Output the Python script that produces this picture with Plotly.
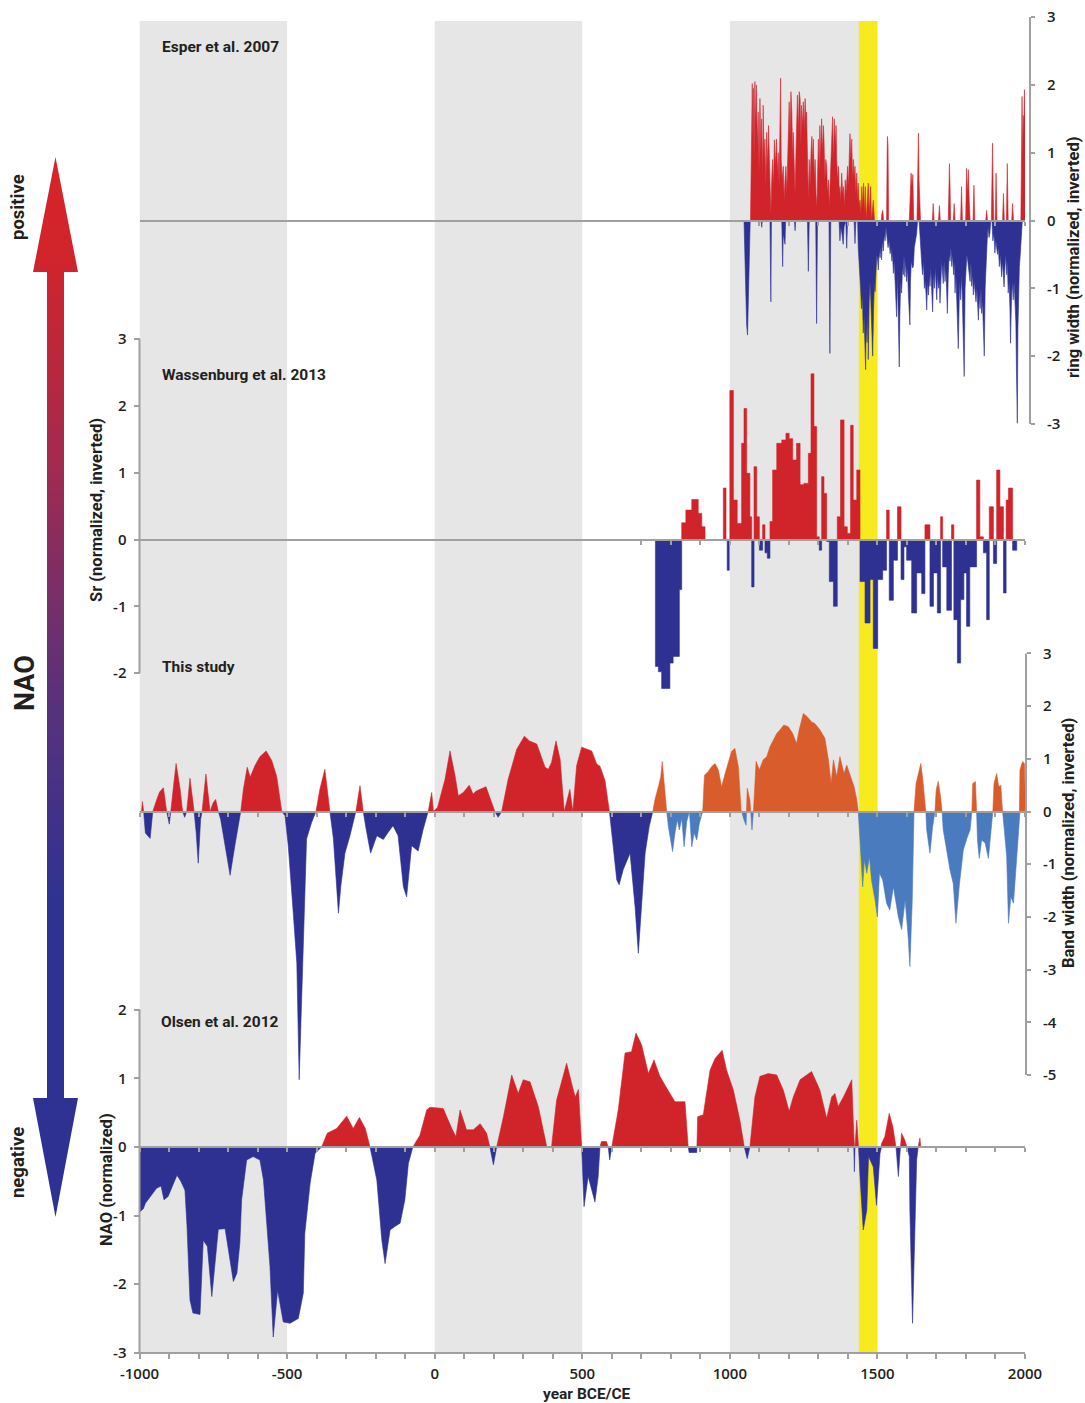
import numpy as np
import plotly.graph_objects as go

# ---------------- data ----------------
# Esper et al. 2007, ring width (normalized, inverted): positive and negative spikes
esper_pos_year = [1070, 1073, 1076, 1078, 1080, 1082, 1085, 1087, 1090, 1093,
                  1096, 1099, 1102, 1105, 1108, 1111, 1113, 1116, 1119, 1122,
                  1125, 1128, 1131, 1134, 1137, 1139, 1142, 1145, 1148, 1151,
                  1154, 1158, 1161, 1164, 1167, 1170, 1172, 1174, 1177, 1181,
                  1184, 1187, 1190, 1193, 1196, 1199, 1201, 1204, 1207, 1210,
                  1213, 1215, 1218, 1221, 1224, 1227, 1229, 1232, 1235, 1238,
                  1241, 1243, 1246, 1249, 1252, 1255, 1258, 1260, 1263, 1266,
                  1269, 1272, 1275, 1278, 1281, 1283, 1286, 1289, 1292, 1295,
                  1298, 1300, 1303, 1305, 1308, 1311, 1314, 1317, 1319, 1322,
                  1325, 1328, 1331, 1334, 1337, 1340, 1343, 1346, 1348, 1351,
                  1354, 1357, 1360, 1362, 1365, 1368, 1371, 1373, 1376, 1379,
                  1382, 1385, 1388, 1391, 1394, 1399, 1402, 1405, 1407, 1410,
                  1413, 1416, 1419, 1421, 1424, 1427, 1430, 1433, 1435, 1438,
                  1441, 1444, 1447, 1450, 1453, 1456, 1459, 1462, 1466, 1469,
                  1472, 1477, 1480, 1484, 1486, 1490, 1513, 1515, 1518, 1521,
                  1531, 1533, 1534, 1536, 1538, 1608, 1611, 1614, 1617, 1620,
                  1623, 1634, 1637, 1639, 1641, 1644, 1646, 1686, 1689, 1692,
                  1707, 1710, 1713, 1740, 1742, 1744, 1746, 1748, 1757, 1760,
                  1763, 1782, 1785, 1788, 1799, 1802, 1805, 1808, 1811, 1814,
                  1824, 1827, 1830, 1867, 1870, 1873, 1886, 1888, 1890, 1892,
                  1894, 1899, 1902, 1905, 1924, 1927, 1930, 1937, 1940, 1943,
                  1955, 1958, 1961, 1986, 1988, 1990, 1992, 1994, 1996, 1998,
                  2000]
esper_pos_val = [0, 0.8, 2.02, 1.2, 1.95, 0.9, 2.05, 1.4, 2.0, 1.1,
                 1.6, 0.7, 1.8, 1.0, 1.5, 0.6, 1.7, 0.9, 1.2, 0.5,
                 1.3, 0.8, 1.4, 0.9, 0.3, 0.1, 0.6, 0.9, 0.5, 1.19,
                 0.8, 1.2, 0.7, 1.0, 0.5, 1.3, 2.1, 0.9, 0.6, 0.8,
                 0.3, 0.6, 0.8, 0.4, 1.0, 1.3, 1.75, 1.2, 1.9, 1.6,
                 0.9, 1.3, 0.8, 0.4, 1.0, 1.4, 1.85, 1.3, 1.9, 1.8,
                 1.1, 1.7, 1.4, 1.75, 1.3, 1.8, 1.5, 1.6, 0.7, 0.3,
                 0.9, 0.5, 1.0, 1.24, 0.8, 1.2, 0.6, 0.9, 0.4, 0.2,
                 0.8, 1.2, 0.7, 1.4, 0.9, 1.5, 1.0, 1.4, 1.2, 0.6,
                 0.9, 0.8, 0.4, 0.6, 0.2, 0.5, 0.9, 1.2, 1.53, 0.9,
                 1.5, 1.1, 1.4, 0.9, 0.6, 0.8, 0.4, 0.5, 0.3, 0.7,
                 0.4, 0.5, 0.2, 0.6, 0.4, 0.8, 0.5, 1.0, 1.28, 0.9,
                 1.2, 0.6, 0.9, 0.6, 0.8, 0.4, 0.7, 0.3, 0.55, 0.2,
                 0.3, 0.1, 0.5, 0.2, 0.55, 0.1, 0.5, 0, 0.3, 0.55,
                 0.1, 0.5, 0, 0.2, 0.3, 0, 0, 0.1, 0.15, 0,
                 0, 1.0, 1.24, 1.1, 0, 0, 0.4, 0.7, 0.5, 0.68,
                 0, 0, 0.8, 1.29, 0.6, 0.3, 0, 0, 0.25, 0,
                 0, 0.22, 0, 0, 0.5, 0.84, 0.5, 0, 0, 0.25,
                 0, 0, 0.5, 0, 0, 0.77, 0.4, 0.75, 0.3, 0,
                 0, 0.52, 0, 0, 0.15, 0, 0, 0.6, 1.14, 0.5,
                 0, 0, 0.7, 0, 0, 0.4, 0, 0, 0.84, 0,
                 0, 0.25, 0, 0, 1.4, 1.83, 0.9, 1.55, 1.3, 1.93,
                 1.7]
esper_neg_year = [1048, 1051, 1054, 1057, 1060, 1063, 1066, 1069, 1106, 1108,
                  1110, 1136, 1139, 1141, 1176, 1179, 1181, 1187, 1189, 1219,
                  1221, 1223, 1263, 1266, 1269, 1291, 1294, 1297, 1336, 1339,
                  1342, 1370, 1373, 1376, 1380, 1384, 1387, 1393, 1396, 1399,
                  1421, 1424, 1427, 1433, 1435, 1438, 1441, 1443, 1446, 1449,
                  1452, 1455, 1458, 1460, 1462, 1465, 1467, 1469, 1472, 1475,
                  1477, 1480, 1482, 1484, 1487, 1490, 1492, 1495, 1498, 1501,
                  1503, 1506, 1509, 1512, 1514, 1517, 1520, 1523, 1526, 1529,
                  1532, 1536, 1540, 1543, 1546, 1549, 1551, 1554, 1557, 1560,
                  1563, 1565, 1568, 1571, 1574, 1576, 1579, 1582, 1585, 1588,
                  1590, 1593, 1596, 1599, 1602, 1605, 1608, 1610, 1612, 1615,
                  1619, 1622, 1625, 1628, 1631, 1633, 1636, 1641, 1644, 1647,
                  1650, 1653, 1656, 1659, 1662, 1665, 1667, 1670, 1673, 1676,
                  1678, 1681, 1684, 1687, 1690, 1693, 1696, 1699, 1701, 1704,
                  1707, 1710, 1712, 1715, 1718, 1721, 1723, 1726, 1729, 1732,
                  1735, 1737, 1740, 1743, 1746, 1749, 1752, 1755, 1758, 1761,
                  1763, 1766, 1769, 1771, 1774, 1777, 1779, 1782, 1785, 1788,
                  1791, 1794, 1797, 1800, 1803, 1806, 1808, 1811, 1814, 1817,
                  1819, 1822, 1825, 1828, 1831, 1834, 1837, 1840, 1842, 1845,
                  1848, 1851, 1853, 1856, 1859, 1862, 1865, 1868, 1870, 1872,
                  1875, 1878, 1881, 1884, 1888, 1891, 1895, 1898, 1901, 1904,
                  1907, 1910, 1913, 1916, 1919, 1921, 1924, 1927, 1929, 1932,
                  1935, 1938, 1940, 1943, 1946, 1949, 1951, 1954, 1957, 1960,
                  1963, 1966, 1969, 1971, 1974, 1976, 1978, 1981, 1984, 1987,
                  1989, 1991]
esper_neg_val = [0, -0.6, -1.2, -1.55, -1.69, -1.2, -0.5, 0, 0, -0.1,
                 0, 0, -1.2, 0, 0, -0.68, -0.2, -0.35, 0, 0,
                 -0.15, 0, 0, -0.75, 0, 0, -1.52, 0, 0, -1.96,
                 0, 0, -0.3, -0.1, -0.2, -0.35, -0.1, 0, -0.41, 0,
                 0, -0.34, 0, 0, -0.4, -0.6, -0.7, -1.0, -1.3, -1.1,
                 -1.66, -1.4, -1.9, -2.2, -1.5, -1.8, -1.3, -2.05, -1.2, -0.9,
                 -1.1, -1.4, -1.7, -2.0, -1.3, -0.9, -1.05, -0.7, -0.5, -0.6,
                 -0.73, -0.45, -0.55, -0.4, -0.58, -0.3, -0.45, -0.2, -0.3, -0.1,
                 -0.2, -0.4, -0.3, -0.49, -0.4, -0.6, -0.45, -0.78, -0.6, -0.9,
                 -1.1, -1.42, -0.8, -1.3, -2.16, -1.4, -0.9, -1.07, -0.7, -0.8,
                 -0.5, -0.83, -0.6, -0.9, -0.7, -1.1, -1.3, -1.54, -0.9, -0.6,
                 -0.7, -0.68, -0.4, -0.3, -0.2, -0.19, 0, 0, -0.2, -0.5,
                 -0.63, -0.8, -0.6, -1.0, -0.9, -1.1, -1.32, -0.9, -1.1, -0.8,
                 -0.97, -0.7, -1.0, -1.35, -0.8, -1.0, -0.7, -1.1, -1.17, -0.8,
                 -1.0, -0.9, -1.22, -0.9, -0.6, -0.8, -0.93, -0.6, -0.9, -0.7,
                 -1.1, -1.37, -0.8, -0.5, -0.6, -0.4, -0.68, -0.5, -0.8, -0.6,
                 -1.07, -0.8, -1.2, -1.5, -1.89, -1.2, -0.9, -1.17, -0.8, -1.2,
                 -1.6, -2.3, -1.0, -0.6, -0.5, -0.6, -0.68, -0.7, -0.9, -0.6,
                 -0.97, -0.8, -1.1, -0.9, -1.07, -1.2, -1.0, -1.3, -1.47, -1.1,
                 -1.3, -1.0, -1.37, -1.2, -1.5, -2.0, -1.0, -0.6, -0.3, -0.28,
                 -0.1, -0.25, -0.19, 0, 0, -0.3, -0.2, -0.48, -0.3, -0.4,
                 -0.5, -0.4, -0.68, -0.5, -0.7, -0.83, -0.6, -0.8, -0.98, -0.7,
                 -0.5, -0.8, -0.6, -1.07, -0.9, -1.3, -1.81, -1.2, -0.9, -1.17,
                 -0.9, -1.2, -1.5, -2.2, -2.99, -1.6, -0.9, -0.68, -0.5, -0.3,
                 -0.19, 0]

# Wassenburg et al. 2013, Sr (normalized, inverted): step series, value holds until next year
wass_year = [740, 748, 758, 769, 797, 808, 829, 837, 851, 871,
             893, 905, 916, 978, 987, 991, 998, 1000, 1012, 1025,
             1040, 1048, 1057, 1068, 1074, 1082, 1091, 1100, 1111, 1119,
             1127, 1136, 1145, 1159, 1176, 1190, 1201, 1213, 1226, 1238,
             1251, 1266, 1275, 1285, 1294, 1303, 1311, 1319, 1328, 1337,
             1351, 1364, 1375, 1387, 1398, 1409, 1418, 1430, 1441, 1458,
             1475, 1486, 1501, 1518, 1531, 1540, 1554, 1568, 1580, 1590,
             1599, 1616, 1633, 1650, 1661, 1678, 1690, 1703, 1714, 1721,
             1735, 1751, 1759, 1771, 1782, 1793, 1802, 1813, 1836, 1847,
             1859, 1870, 1879, 1893, 1904, 1915, 1927, 1936, 1944, 1958,
             1972]
wass_val = [0, -1.9, -1.98, -2.23, -1.85, -1.75, -0.75, 0.25, 0.44, 0.6,
            0.39, 0.19, 0, 0.77, 0, -0.46, 0, 2.23, 0.59, 0.24,
            1.44, 1.96, 0.99, 0.34, -0.71, 1.09, 0.34, -0.16, 0.22, -0.2,
            -0.28, 0.27, 1.04, 1.44, 1.49, 1.59, 1.51, 1.19, 1.44, 0.82,
            0.84, 1.29, 2.48, 1.69, 0.04, -0.16, 0.94, 0.69, -0.03, -0.63,
            -1.0, 0.34, 1.79, 0.19, 0.09, 1.71, 0.59, 1.04, -0.63, -1.25,
            -0.6, -1.63, -0.6, -0.46, 0.44, -0.91, -0.31, 0.49, -0.6, -0.11,
            -0.31, -1.1, -0.5, -0.81, 0.22, -1.0, -0.5, -1.1, 0.34, -0.41,
            -1.06, 0.22, -1.2, -1.85, -0.9, -0.5, -1.3, -0.41, 0.89, 0.04,
            -0.2, -1.2, 0.49, -0.36, 1.04, 0.49, -0.8, 0.59, 0.77, -0.16,
            0]

# This study, band width (normalized, inverted): lower-resolution part
study_year = [-1000, -993, -990, -986, -980, -964, -955, -942, -932, -919,
              -908, -899, -894, -885, -876, -862, -854, -847, -840, -829,
              -815, -808, -801, -793, -788, -775, -761, -750, -742, -733,
              -725, -705, -693, -677, -657, -648, -635, -625, -609, -592,
              -571, -552, -535, -518, -507, -496, -479, -467, -459, -452,
              -443, -434, -417, -402, -389, -372, -355, -343, -326, -318,
              -304, -287, -267, -253, -242, -232, -217, -196, -174, -158,
              -141, -124, -106, -95, -78, -56, -39, -22, -10, -4,
              10, 35, 52, 69, 80, 97, 117, 130, 141, 174,
              193, 204, 215, 227, 249, 278, 304, 321, 346, 374,
              385, 396, 411, 425, 439, 448, 458, 468, 481, 498,
              532, 549, 560, 577, 592, 605, 617, 625, 639, 662,
              679, 690, 701, 713, 727, 739]
study_val = [0, 0, 0.19, 0, -0.41, -0.51, 0, 0.22, 0.37, 0.45,
             0, -0.24, 0, 0.47, 0.91, 0.41, 0, -0.11, 0, 0.63,
             0, -0.4, -0.98, -0.15, 0, 0.71, 0, 0.17, 0.23, 0,
             -0.15, -0.79, -1.21, -0.65, 0, 0.42, 0.84, 0.65, 0.87, 1.04,
             1.15, 0.97, 0.66, 0, -0.08, -0.65, -1.93, -2.88, -5.09, -3.82,
             -2.24, -0.52, -0.21, 0, 0.42, 0.8, 0, -0.52, -1.93, -1.42,
             -0.79, -0.46, 0, 0.49, 0, -0.34, -0.79, -0.46, -0.53, -0.4,
             -0.27, -0.46, -1.43, -1.62, -0.65, -0.75, -0.34, 0, 0.36, 0,
             0.08, 0.61, 1.15, 0.68, 0.3, 0.36, 0.5, 0.33, 0.39, 0.47,
             0.17, 0, -0.11, 0, 0.61, 1.18, 1.43, 1.34, 1.28, 0.84,
             0.8, 0.93, 1.34, 0.99, 0, 0.23, 0.42, 0, 0.87, 1.22,
             1.15, 0.9, 0.86, 0.59, 0, -0.67, -1.3, -1.39, -1.1, -0.79,
             -1.81, -2.69, -1.86, -0.79, -0.28, 0]
# This study: high-resolution part
study_hr_year = [739, 746, 758, 766, 771, 777, 786, 792, 799, 806,
                 814, 822, 829, 837, 845, 854, 863, 871, 879, 888,
                 897, 908, 914, 927, 938, 950, 961, 972, 984, 995,
                 1006, 1017, 1029, 1038, 1040, 1048, 1055, 1059, 1068, 1075,
                 1080, 1089, 1100, 1113, 1125, 1136, 1147, 1159, 1170, 1183,
                 1198, 1213, 1226, 1235, 1249, 1262, 1277, 1288, 1305, 1322,
                 1334, 1343, 1351, 1362, 1373, 1387, 1396, 1409, 1421, 1430,
                 1435, 1441, 1450, 1456, 1464, 1473, 1480, 1492, 1500, 1507,
                 1518, 1531, 1542, 1554, 1571, 1582, 1594, 1605, 1610, 1618,
                 1624, 1631, 1639, 1647, 1654, 1661, 1664, 1667, 1678, 1687,
                 1695, 1699, 1706, 1714, 1719, 1723, 1735, 1746, 1757, 1766,
                 1778, 1791, 1805, 1814, 1820, 1823, 1832, 1836, 1839, 1845,
                 1853, 1865, 1876, 1885, 1891, 1895, 1904, 1911, 1918, 1924,
                 1929, 1938, 1944, 1952, 1961, 1970, 1975, 1981, 1983, 1992,
                 1998, 2002]
study_hr_val = [0, 0.22, 0.47, 0.66, 0.95, 0.6, 0, -0.29, -0.54, -0.76,
                -0.41, -0.16, -0.35, -0.13, -0.67, -0.19, 0, -0.67, -0.41, -0.54,
                -0.22, 0, 0.69, 0.76, 0.85, 0.91, 0.79, 0.47, 0.72, 0.91,
                1.14, 1.2, 0.85, 0.03, 0, -0.16, -0.26, 0.44, 0.22, -0.35,
                0, 0.95, 0.79, 0.98, 1.04, 1.23, 1.36, 1.48, 1.55, 1.64,
                1.61, 1.48, 1.29, 1.55, 1.86, 1.8, 1.7, 1.67, 1.55, 1.39,
                0.98, 0.53, 0.98, 0.66, 1.04, 0.72, 0.88, 0.66, 0.47, 0.22,
                0, -0.54, -1.43, -0.92, -1.17, -0.86, -1.3, -1.68, -2.0, -1.17,
                -1.3, -1.74, -1.87, -1.43, -2.0, -2.24, -1.68, -2.44, -2.94, -1.68,
                0, 0.53, 0.72, 0.91, 0.6, 0.19, 0, -0.35, -0.79, -0.29,
                0, 0.41, 0.57, 0.28, 0, -0.35, -0.73, -1.11, -1.37, -2.12,
                -1.37, -0.73, -0.48, -0.35, 0, 0.53, 0.57, 0, -0.54, -0.89,
                -0.54, -0.6, -0.89, -0.35, 0, 0.53, 0.72, 0.47, 0.5, 0,
                -0.29, -0.86, -2.12, -1.62, -1.74, -0.98, -0.6, 0, 0.79, 0.95,
                0.91, 0]

# Olsen et al. 2012, NAO (normalized)
olsen_year = [-1000, -987, -980, -942, -927, -917, -903, -873, -860, -846,
              -839, -829, -819, -795, -784, -770, -755, -745, -733, -710,
              -700, -682, -670, -660, -654, -637, -615, -592, -580, -558,
              -547, -532, -513, -490, -462, -445, -440, -422, -405, -383,
              -364, -332, -298, -276, -255, -235, -219, -196, -179, -168,
              -151, -135, -117, -101, -89, -74, -50, -27, -16, 29,
              58, 72, 86, 108, 131, 154, 176, 187, 199, 210,
              233, 261, 283, 300, 323, 351, 380, 396, 413, 447,
              464, 476, 487, 498, 506, 520, 543, 554, 560, 565,
              582, 588, 593, 600, 622, 645, 667, 682, 701, 724,
              743, 763, 786, 814, 848, 859, 862, 888, 891, 910,
              933, 950, 974, 989, 1012, 1034, 1049, 1059, 1068, 1085,
              1102, 1130, 1159, 1181, 1201, 1215, 1238, 1277, 1305, 1328,
              1345, 1356, 1367, 1385, 1413, 1418, 1420, 1422, 1424, 1430,
              1436, 1441, 1452, 1464, 1470, 1486, 1497, 1509, 1514, 1525,
              1540, 1552, 1563, 1571, 1577, 1582, 1593, 1600, 1608, 1610,
              1619, 1627, 1633, 1638, 1644, 1647]
olsen_val = [-0.95, -0.9, -0.82, -0.6, -0.57, -0.77, -0.72, -0.41, -0.5, -0.63,
             -1.16, -2.23, -2.42, -2.44, -1.36, -1.45, -2.18, -1.75, -1.2, -1.19,
             -1.45, -1.96, -1.84, -1.4, -0.77, -0.19, -0.14, -0.19, -0.48, -1.74,
             -2.77, -2.09, -2.55, -2.57, -2.5, -2.13, -1.26, -0.53, -0.09, 0,
             0.2, 0.27, 0.45, 0.27, 0.43, 0.27, 0, -0.48, -1.36, -1.7,
             -1.21, -1.16, -1.11, -0.77, -0.24, 0, 0.17, 0.54, 0.58, 0.56,
             0.27, 0.15, 0.54, 0.25, 0.25, 0.34, 0.2, 0, -0.26, 0,
             0.44, 1.05, 0.78, 0.98, 0.95, 0.59, 0, 0, 0.68, 1.22,
             0.93, 0.73, 0.84, 0, -0.87, -0.43, -0.8, -0.43, 0, 0.08,
             0.08, 0, -0.19, 0, 0.54, 1.37, 1.39, 1.66, 1.49, 1.07,
             1.27, 1.03, 0.86, 0.66, 0.66, 0, -0.08, -0.08, 0.44, 0.47,
             1.12, 1.29, 1.41, 1.12, 0.83, 0.39, 0, -0.17, 0, 0.73,
             1.03, 1.07, 1.05, 0.83, 0.52, 0.73, 0.98, 1.1, 0.83, 0.42,
             0.73, 0.78, 0.59, 0.73, 0.98, 0.39, 0, -0.36, 0, 0.39,
             0, -0.43, -1.21, -0.92, -0.14, -0.29, -0.85, -0.09, 0.05, 0.15,
             0.49, 0.3, 0, -0.43, -0.05, 0.2, 0.1, 0, -0.14, -0.92,
             -2.57, -1.02, -0.19, 0, 0.13, 0]

# shaded periods (years)
gray_periods = [(-1000, -500), (0, 500), (1000, 1500)]
yellow_period = (1437, 1500)

for a, b in [(esper_pos_year, esper_pos_val), (esper_neg_year, esper_neg_val),
             (wass_year, wass_val), (study_year, study_val),
             (study_hr_year, study_hr_val), (olsen_year, olsen_val)]:
    assert len(a) == len(b), (len(a), len(b))

# ---------------- styling / geometry ----------------
W, H = 1085, 1403
RED = "#d0232a"
BLUE = "#2e3192"
ORANGE = "#d95c2c"
LBLUE = "#4a7bbf"
GRAY = "#a0a0a0"
BAND = "#e6e6e6"
YELLOW = "#f7ea1f"
INK = "#231f20"
BOLD = "Liberation Sans Narrow, Roboto, sans-serif"
NUM = "Open Sans, sans-serif"

X_LEFT, X_RIGHT = 139.5, 1025.0   # pixel x of -1000 and 2000


def fx(px):
    return px / W


def fy(py):
    return 1 - py / H


def yrange(zero_px, unit_px):
    # y axes all span the full height; map value 0 to zero_px, 1 unit to unit_px
    return [-(H - zero_px) / unit_px, zero_px / unit_px]


def split_sign(xs, ys):
    # add the zero crossings so the red and blue fills meet cleanly
    ox, oy = [xs[0]], [ys[0]]
    for i in range(1, len(xs)):
        x0, y0, x1, y1 = xs[i - 1], ys[i - 1], xs[i], ys[i]
        if y0 * y1 < 0:
            ox.append(x0 + (x1 - x0) * y0 / (y0 - y1))
            oy.append(0.0)
        ox.append(x1)
        oy.append(y1)
    oy = np.array(oy)
    return ox, np.clip(oy, 0, None), np.clip(oy, None, 0)


def area(x, y, color, xa, ya, shape="linear"):
    return go.Scatter(x=x, y=y, mode="lines", fill="tozeroy", fillcolor=color,
                      line=dict(color=color, width=0.6, shape=shape),
                      xaxis=xa, yaxis=ya, hoverinfo="skip", showlegend=False)


fig = go.Figure()

# Esper
fig.add_trace(area(esper_pos_year, esper_pos_val, RED, "x2", "y2"))
fig.add_trace(area(esper_neg_year, esper_neg_val, BLUE, "x2", "y2"))

# Wassenburg
wv = np.array(wass_val)
fig.add_trace(area(wass_year, np.clip(wv, 0, None), RED, "x3", "y3", "hv"))
fig.add_trace(area(wass_year, np.clip(wv, None, 0), BLUE, "x3", "y3", "hv"))

# This study
sx, sp, sn = split_sign(study_year, study_val)
fig.add_trace(area(sx, sp, RED, "x4", "y4"))
fig.add_trace(area(sx, sn, BLUE, "x4", "y4"))
hx, hp, hn = split_sign(study_hr_year, study_hr_val)
fig.add_trace(area(hx, hp, ORANGE, "x4", "y4"))
fig.add_trace(area(hx, hn, LBLUE, "x4", "y4"))

# Olsen
ox, op, on = split_sign(olsen_year, olsen_val)
fig.add_trace(area(ox, op, RED, "x5", "y"))
fig.add_trace(area(ox, on, BLUE, "x5", "y"))

# NAO arrow with a red-to-blue gradient (drawn in pixel units)
arrow_x = [55.5, 78, 64, 64, 78, 55.5, 33, 47, 47, 33, 55.5]
arrow_py = [157, 272, 272, 1098, 1098, 1217, 1098, 1098, 272, 272, 157]
fig.add_trace(go.Scatter(
    x=arrow_x, y=[H - p for p in arrow_py], mode="lines", fill="toself",
    line=dict(width=0, color="rgba(0,0,0,0)"),
    fillgradient=dict(type="vertical",
                      colorscale=[[0, BLUE], [0.3, "#303292"], [0.5, "#5c3179"],
                                  [0.72, "#a52a4e"], [0.9, "#d0242c"], [1, "#d7242a"]]),
    xaxis="x6", yaxis="y6", hoverinfo="skip", showlegend=False))

# ---------------- axes ----------------
tick_font = dict(family=NUM, size=15, color=INK, weight=600)


def zero_axis(zero_px, ticks):
    return dict(overlaying="x", anchor="free", position=fy(zero_px), range=[-1000, 2000],
                showline=True, linecolor=GRAY, linewidth=2, ticks="outside",
                tickcolor=GRAY, ticklen=4, tickwidth=1.5, tickmode="array",
                tickvals=list(ticks), showticklabels=False, showgrid=False,
                zeroline=False, fixedrange=True, automargin=False)


def val_axis(zero_px, unit_px, vals, side, pos_px, tlen, standoff):
    return dict(range=yrange(zero_px, unit_px), anchor="free", position=fx(pos_px),
                side=side, tickmode="array", tickvals=vals,
                ticktext=[str(v) for v in vals], ticks="outside", ticklen=tlen,
                tickcolor=GRAY, tickwidth=1.5, showline=False, showgrid=False,
                zeroline=False, tickfont=tick_font, ticklabelstandoff=standoff,
                fixedrange=True, automargin=False)


layout = dict(
    width=W, height=H, margin=dict(l=0, r=0, t=0, b=0, autoexpand=False),
    paper_bgcolor="white", plot_bgcolor="rgba(0,0,0,0)", showlegend=False,
    xaxis=dict(domain=[fx(X_LEFT), fx(X_RIGHT)], range=[-1000, 2000],
               anchor="free", position=fy(1353), showline=True, linecolor=GRAY,
               linewidth=2, ticks="outside", tickcolor=GRAY, ticklen=5, tickwidth=1.5,
               tickmode="array", tickvals=[-1000, -500, 0, 500, 1000, 1500, 2000],
               ticktext=["-1000", "-500", "0", "500", "1000", "1500", "2000"],
               minor=dict(tickmode="linear", tick0=-1000, dtick=100, ticks="outside",
                          ticklen=5, tickcolor=GRAY, tickwidth=1.5),
               tickfont=tick_font, ticklabelstandoff=2, showgrid=False,
               zeroline=False, fixedrange=True, automargin=False),
    xaxis2=zero_axis(220.5, range(1100, 2001, 100)),
    xaxis3=zero_axis(539.5, range(700, 2001, 100)),
    xaxis4=zero_axis(811.5, range(-1000, 2001, 100)),
    xaxis5=zero_axis(1147, range(-1000, 2001, 100)),
    yaxis=val_axis(1147, 68.6, [2, 1, 0, -1, -2, -3], "left", X_LEFT, 6, 4),
    yaxis2=dict(val_axis(220.5, 67.8, [3, 2, 1, 0, -1, -2, -3], "right", 1030, 4, 9),
                overlaying="y"),
    yaxis3=dict(val_axis(539.5, 66.8, [3, 2, 1, 0, -1, -2], "left", X_LEFT, 6, 4),
                overlaying="y"),
    yaxis4=dict(val_axis(811.5, 52.7, [3, 2, 1, 0, -1, -2, -3, -4, -5], "right", 1026, 4, 9),
                overlaying="y"),
    xaxis6=dict(domain=[0, 0.09], range=[0, 0.09 * W], visible=False,
                anchor="y6", fixedrange=True, automargin=False),
    yaxis6=dict(domain=[0, 1], range=[0, H], visible=False, anchor="x6",
                fixedrange=True, automargin=False),
)
fig.update_layout(**layout)

# background periods
for a, b in gray_periods:
    fig.add_shape(type="rect", xref="x", yref="paper", x0=a, x1=b,
                  y0=fy(1353), y1=fy(21), fillcolor=BAND, line_width=0, layer="below")
fig.add_shape(type="rect", xref="x", yref="paper", x0=yellow_period[0], x1=yellow_period[1],
              y0=fy(1353), y1=fy(21), fillcolor=YELLOW, line_width=0, layer="below")

# vertical axis lines (only over the labelled span)
for px, yref, lo, hi in [(1030, "y2", -3, 3), (X_LEFT, "y3", -2, 3),
                         (1026, "y4", -5, 3), (X_LEFT, "y", -3, 2)]:
    fig.add_shape(type="line", xref="paper", yref=yref, x0=fx(px), x1=fx(px),
                  y0=lo, y1=hi, line=dict(color=GRAY, width=2))


def label(px, py, text, size, angle=0, xanchor="center", weight="bold"):
    return dict(x=fx(px), y=fy(py), xref="paper", yref="paper", text=text,
                showarrow=False, textangle=angle, xanchor=xanchor, yanchor="middle",
                font=dict(family=BOLD, size=size, color=INK, weight=weight))


annotations = [
    label(160, 47, "Esper et al. 2007", 15.5, xanchor="left"),
    label(160, 375, "Wassenburg et al. 2013", 15.5, xanchor="left"),
    label(160, 667, "This study", 15.5, xanchor="left"),
    label(159, 1022, "Olsen et al. 2012", 15.5, xanchor="left"),
    label(1073, 257, "ring width (normalized, inverted)", 16.5, angle=-90),
    label(96, 510, "Sr (normalized, inverted)", 16.5, angle=-90),
    label(1068, 843, "Band width (normalized, inverted)", 16.5, angle=-90),
    label(106, 1180, "NAO (normalized)", 16.5, angle=-90),
    label(587, 1394, "year BCE/CE", 15.5),
    label(18, 207, "positive", 18.5, angle=-90),
    label(18, 1163, "negative", 18.5, angle=-90),
    label(25, 683, "NAO", 27, angle=-90),
]
fig.update_layout(annotations=annotations)

fig.write_html("out.html", config={"displayModeBar": False},
               post_script="document.body.style.margin='0';")
